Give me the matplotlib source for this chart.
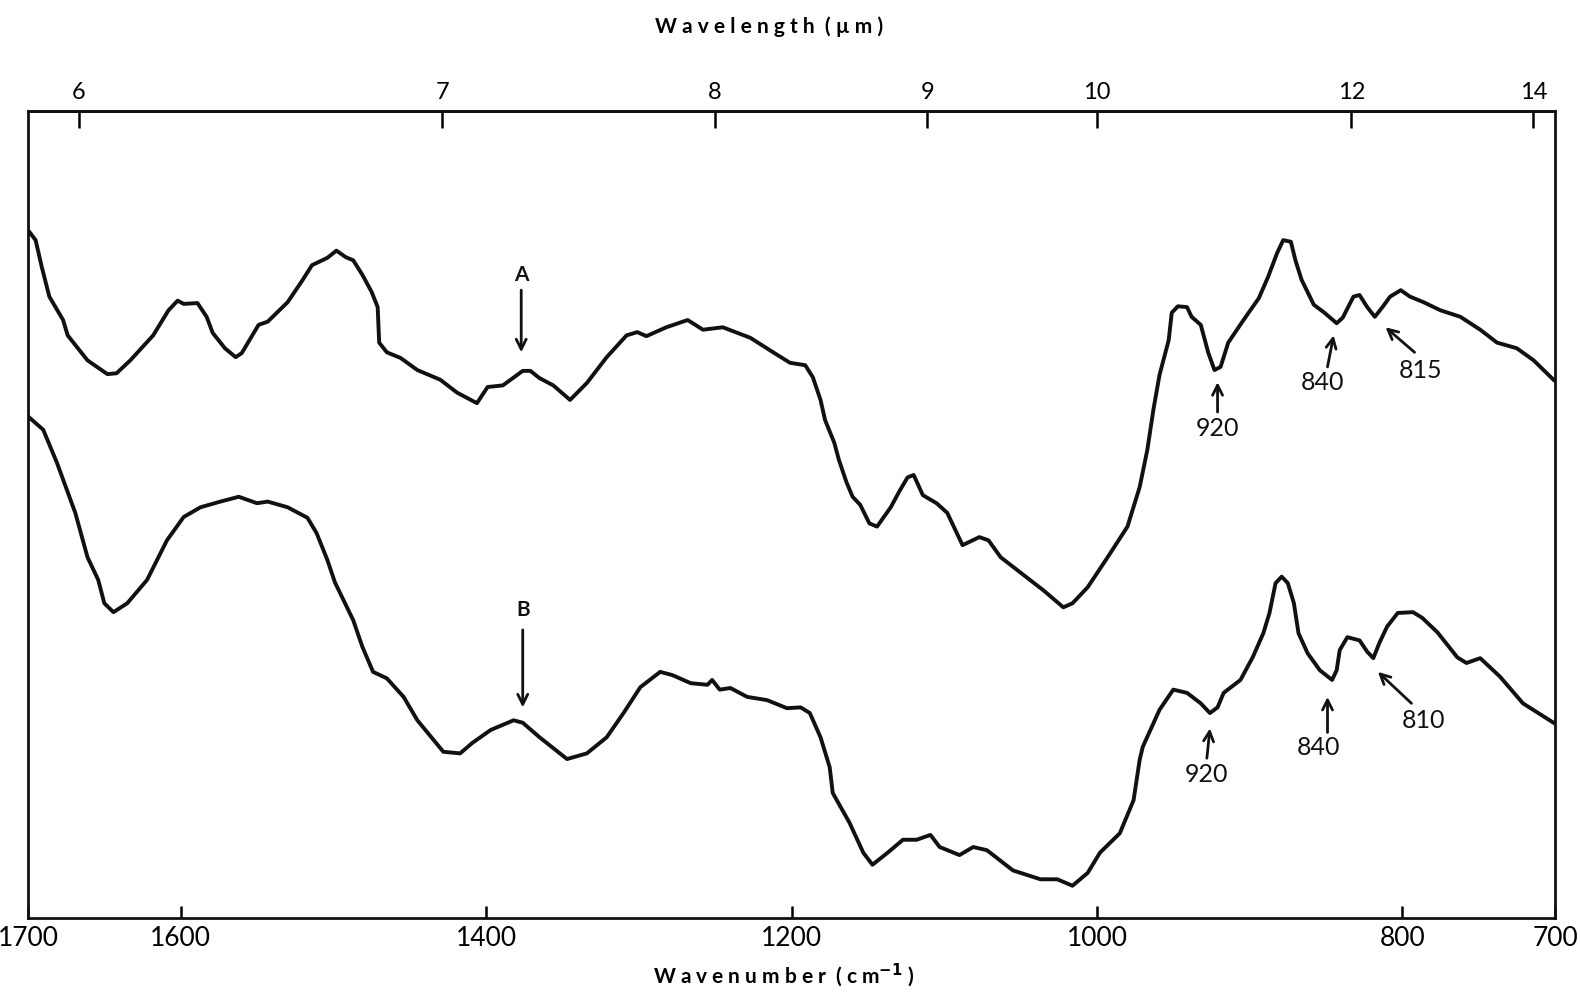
import numpy as np
import matplotlib.pyplot as plt

plt.rcParams['font.family'] = ['Lato', 'DejaVu Sans']

# spectrum A (upper trace), wavenumber in cm^-1 and relative transmission
wn_a = [1699, 1695, 1691, 1686, 1677, 1674, 1661, 1648, 1642, 1633, 1618, 1608,
        1602, 1598, 1589, 1583, 1579, 1571, 1564, 1560, 1549, 1543, 1530, 1520,
        1514, 1504, 1498, 1492, 1487, 1481, 1475, 1471, 1470, 1465, 1456, 1445,
        1430, 1419, 1406, 1399, 1389, 1376, 1371, 1365, 1356, 1345, 1334, 1321,
        1308, 1301, 1295, 1282, 1268, 1258, 1245, 1227, 1212, 1201, 1191, 1186,
        1181, 1178, 1172, 1169, 1164, 1160, 1155, 1149, 1144, 1135, 1129, 1124,
        1120, 1114, 1105, 1098, 1088, 1077, 1071, 1063, 1050, 1035, 1022, 1016,
        1006, 993, 980, 972, 967, 963, 959, 953, 951, 947, 941, 938, 932, 927,
        923, 919, 914, 904, 894, 888, 882, 878, 873, 870, 866, 858, 851, 843,
        839, 832, 828, 823, 818, 813, 808, 801, 795, 786, 775, 762, 749, 738,
        725, 714, 701]
tr_a = [85.0, 84.0, 80.7, 77.0, 74.1, 72.2, 69.1, 67.4, 67.5, 69.1, 72.2, 75.3,
        76.5, 76.1, 76.2, 74.5, 72.5, 70.6, 69.5, 70.0, 73.5, 73.9, 76.3, 79.1,
        80.9, 81.8, 82.7, 81.9, 81.5, 79.7, 77.6, 75.7, 71.3, 70.1, 69.4, 67.9,
        66.7, 65.1, 63.8, 65.8, 66.0, 67.8, 67.8, 66.9, 66.0, 64.2, 66.3, 69.5,
        72.2, 72.6, 72.1, 73.2, 74.1, 72.9, 73.2, 71.9, 70.1, 68.8, 68.5, 67.0,
        64.2, 61.7, 58.9, 56.8, 54.0, 52.2, 51.2, 48.9, 48.5, 50.9, 53.0, 54.6,
        54.9, 52.4, 51.4, 50.2, 46.2, 47.2, 46.8, 44.7, 42.8, 40.6, 38.5, 39.0,
        41.0, 44.7, 48.5, 53.4, 58.0, 63.0, 67.3, 71.6, 75.0, 75.8, 75.7, 74.5,
        73.5, 70.0, 67.9, 68.3, 71.3, 74.1, 76.8, 79.4, 82.4, 84.0, 83.8, 81.5,
        79.1, 76.0, 75.0, 73.7, 74.4, 77.0, 77.2, 75.7, 74.5, 75.7, 77.0, 77.8,
        77.0, 76.3, 75.3, 74.5, 72.9, 71.3, 70.6, 69.1, 66.7]

# spectrum B (lower trace)
wn_b = [1699, 1690, 1681, 1669, 1661, 1654, 1650, 1644, 1635, 1622, 1609, 1598,
        1587, 1574, 1562, 1550, 1543, 1530, 1517, 1511, 1504, 1499, 1487, 1481,
        1474, 1465, 1454, 1445, 1428, 1417, 1409, 1397, 1382, 1376, 1365, 1347,
        1334, 1321, 1310, 1299, 1286, 1278, 1266, 1255, 1252, 1247, 1240, 1229,
        1216, 1203, 1194, 1188, 1181, 1175, 1173, 1162, 1153, 1147, 1137, 1127,
        1118, 1109, 1103, 1090, 1081, 1072, 1055, 1037, 1026, 1016, 1006, 998,
        985, 976, 972, 970, 959, 950, 941, 932, 926, 921, 917, 906, 898, 891,
        887, 883, 879, 875, 871, 868, 862, 854, 846, 843, 841, 836, 828, 823,
        819, 815, 810, 803, 793, 787, 777, 764, 758, 749, 736, 721, 701]
tr_b = [62.0, 60.5, 56.4, 50.2, 44.7, 41.9, 39.0, 37.9, 39.0, 41.9, 46.8, 49.7,
        50.9, 51.6, 52.2, 51.4, 51.6, 50.9, 49.6, 47.7, 44.4, 41.6, 36.9, 33.6,
        30.5, 29.7, 27.4, 24.5, 20.6, 20.4, 21.7, 23.3, 24.5, 24.2, 22.4, 19.7,
        20.4, 22.4, 25.4, 28.6, 30.5, 30.1, 29.1, 28.9, 29.5, 28.3, 28.5, 27.4,
        27.0, 26.0, 26.1, 25.4, 22.4, 18.7, 15.5, 11.8, 8.1, 6.6, 8.1, 9.7,
        9.7, 10.3, 8.8, 7.8, 8.8, 8.4, 5.9, 4.8, 4.8, 4.0, 5.6, 8.1,
        10.5, 14.6, 19.6, 21.2, 25.8, 28.3, 27.9, 26.6, 25.4, 26.1, 27.9, 29.5,
        32.3, 35.3, 37.8, 41.5, 42.3, 41.5, 39.0, 35.3, 32.8, 30.7, 29.5, 30.7,
        33.2, 34.8, 34.4, 33.0, 32.2, 34.1, 36.1, 37.8, 37.9, 37.2, 35.4, 32.3,
        31.6, 32.2, 29.9, 26.6, 24.2]

# band labels: text, text position, arrow tail, arrow tip (wavenumber, value)
labels = ['A', '920', '840', '815', 'B', '920', '840', '810']
text_xy = [(1377, 79.7), (921, 60.7), (852, 66.3), (788, 67.9),
           (1376, 38.2), (928, 17.8), (855, 21.1), (786, 24.5)]
tail_xy = [(1377, 77.8), (921, 62.7), (849, 68.3), (792, 70.1),
           (1376, 35.7), (928, 19.8), (849, 23.0), (794, 26.6)]
tip_xy = [(1377, 70.1), (921, 66.4), (845, 72.2), (811, 73.2),
          (1376, 26.1), (926, 23.5), (849, 27.4), (816, 30.5)]

wn_ticks = [1700, 1600, 1400, 1200, 1000, 800, 700]
um_ticks = [6, 7, 8, 9, 10, 12, 14]

fig = plt.figure(figsize=(15.8, 10.01), dpi=100)
ax = fig.add_axes([0.0177, 0.0829, 0.9665, 0.8062])

ax.plot(wn_a, tr_a, color='#111111', lw=2.8, solid_joinstyle='round')
ax.plot(wn_b, tr_b, color='#111111', lw=2.8, solid_joinstyle='round')

for lab, t, s, e in zip(labels, text_xy, tail_xy, tip_xy):
    big = lab in ('A', 'B')
    ax.text(t[0], t[1], lab, ha='center', va='center', fontsize=15 if big else 18,
            fontweight='bold' if big else 'normal', color='#111111')
    ax.annotate('', xy=e, xytext=s,
                arrowprops=dict(arrowstyle='->', lw=2.0, color='#111111',
                                shrinkA=0, shrinkB=0, mutation_scale=18))

ax.set_xlim(1700, 700)
ax.set_ylim(0, 100)
ax.set_yticks([])
ax.set_xticks(wn_ticks)
ax.set_xticklabels([str(t) for t in wn_ticks], fontsize=19)
ax.tick_params(axis='x', direction='in', length=9, width=1.8, pad=6)
for s in ax.spines.values():
    s.set_linewidth(2.0)
    s.set_color('#111111')

sec = ax.secondary_xaxis('top', functions=(lambda x: 1e4 / x, lambda x: 1e4 / x))
sec.set_xticks(um_ticks)
sec.set_xticklabels([str(t) for t in um_ticks], fontsize=17)
sec.tick_params(direction='in', length=12, width=1.8, pad=6)
sec.spines['top'].set_linewidth(2.0)

fig.text(0.487, 0.973, 'W a v e l e n g t h  ( \u00b5 m )', ha='center', va='center',
         fontsize=15, fontweight='bold')
fig.text(0.496, 0.026, 'W a v e n u m b e r  ( c m$^{\\mathbf{-1}}$ )', ha='center',
         va='center', fontsize=15, fontweight='bold')

fig.savefig('out.png', dpi=100, facecolor='white')
